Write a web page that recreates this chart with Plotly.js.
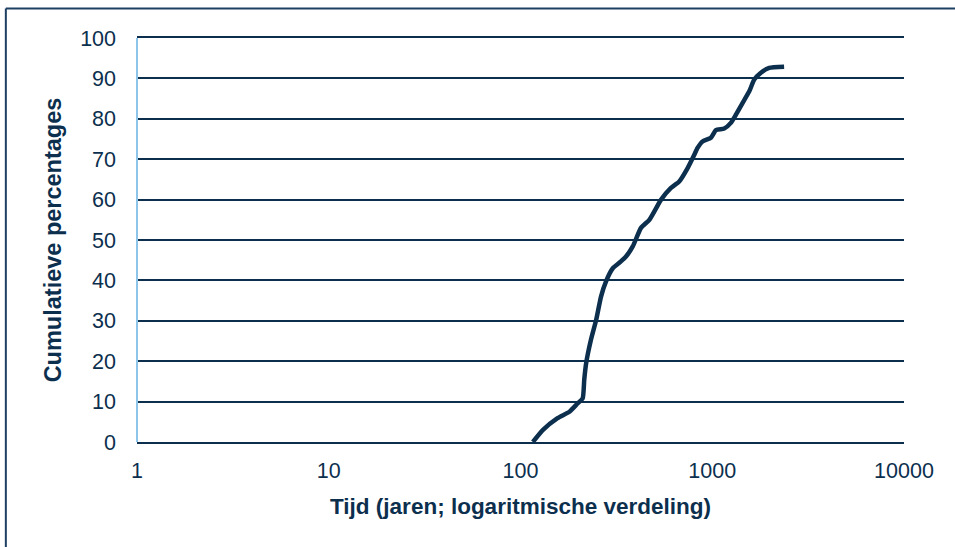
<!DOCTYPE html>
<html>
<head>
<meta charset="utf-8">
<script src="https://cdn.plot.ly/plotly-3.0.1.min.js"></script>
<style>html,body{margin:0;padding:0;background:#fff}#chart{width:955px;height:547px}</style>
</head>
<body>
<div id="chart"></div>
<script>
// Time in years (log scale) and cumulative percentages
var years = [116, 131, 156, 180, 199, 211, 215, 220, 233, 248, 263, 279, 303, 334, 355, 385, 425, 470, 541, 609, 673, 744, 806, 838, 890, 984, 1045, 1155, 1250, 1328, 1438, 1560, 1656, 1794, 1982, 2370];
var cumPct = [0, 3.0, 5.9, 7.5, 9.6, 10.8, 15.4, 19.5, 25.3, 30.2, 36.0, 39.7, 43.0, 44.7, 45.9, 48.4, 53.0, 55.0, 60.0, 62.9, 64.5, 67.8, 71.1, 72.8, 74.4, 75.3, 77.2, 77.6, 79.0, 81.0, 83.9, 86.8, 89.7, 91.4, 92.6, 92.9];
var xTickVals = [1, 10, 100, 1000, 10000];
var xTickText = ['1', '10', '100', '1000', '10000'];
var yTickVals = [0, 10, 20, 30, 40, 50, 60, 70, 80, 90, 100];

var navy = '#0c2f4e';
var fontFam = 'Liberation Sans, Arial, sans-serif';

var trace = {
  x: years, y: cumPct, type: 'scatter', mode: 'lines',
  line: {color: navy, width: 4.5, shape: 'spline', smoothing: 0.5},
  hoverinfo: 'skip', showlegend: false
};

var layout = {
  width: 955, height: 547,
  margin: {l: 137, r: 51, t: 38, b: 105, pad: 0},
  paper_bgcolor: '#ffffff', plot_bgcolor: '#ffffff',
  font: {family: fontFam, color: navy, size: 21},
  xaxis: {
    type: 'log', range: [0, 4],
    tickvals: xTickVals, ticktext: xTickText,
    showgrid: false, zeroline: false,
    showline: true, linecolor: navy, linewidth: 2, mirror: true,
    ticks: '', ticklabelstandoff: 8,
    tickfont: {size: 21.5, color: navy},
    title: {text: 'Tijd (jaren; logaritmische verdeling)', font: {size: 22.5, color: navy, weight: 'bold'}, standoff: 16}
  },
  yaxis: {
    range: [0, 100], tickvals: yTickVals,
    showgrid: true, gridcolor: navy, gridwidth: 2,
    zeroline: false, showline: false,
    ticks: '', ticklabelstandoff: 20,
    tickfont: {size: 21.5, color: navy},
    title: {text: 'Cumulatieve percentages', font: {size: 23.5, color: navy, weight: 'bold'}, standoff: 11}
  },
  shapes: [
    {type: 'line', xref: 'paper', yref: 'paper', x0: 0, x1: 0, y0: 0, y1: 1, line: {color: '#8cc4ea', width: 2}},
    {type: 'line', xref: 'paper', yref: 'paper', x0: -0.171, x1: 1.2, y0: 1.073, y1: 1.073, line: {color: '#1d4062', width: 2}},
    {type: 'line', xref: 'paper', yref: 'paper', x0: -0.171, x1: -0.171, y0: 1.073, y1: -0.3, line: {color: '#1d4062', width: 2}}
  ]
};

Plotly.newPlot('chart', [trace], layout, {displayModeBar: false, staticPlot: true});
</script>
</body>
</html>
